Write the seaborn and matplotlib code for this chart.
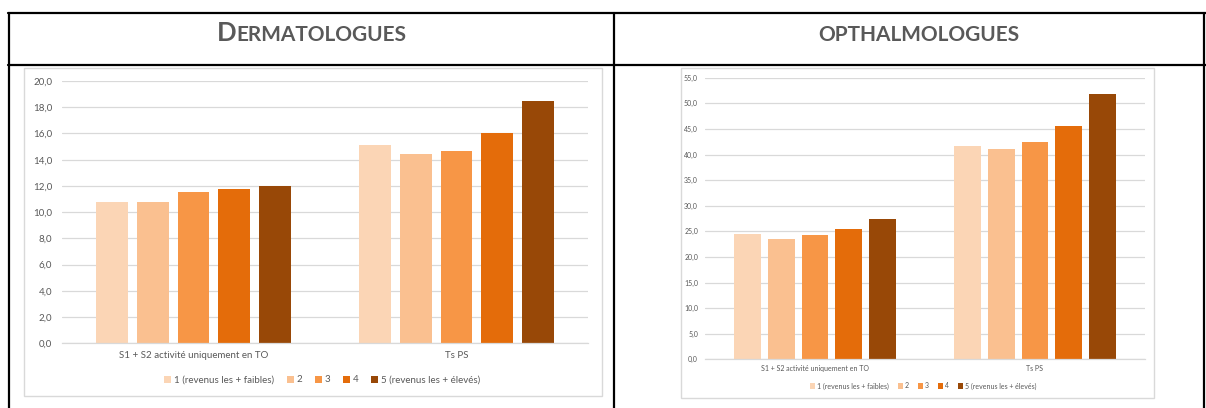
import numpy as np
import pandas as pd
import matplotlib
matplotlib.use("Agg")
import matplotlib.pyplot as plt
import seaborn as sns
from matplotlib.lines import Line2D
from matplotlib.patches import Rectangle
from matplotlib.ticker import FuncFormatter

# ---------------- data ----------------
categories = ["S1 + S2 activité uniquement en TO", "Ts PS"]
quintiles = ["1 (revenus les + faibles)", "2", "3", "4", "5 (revenus les + élevés)"]
derma_s1s2 = [10.8, 10.8, 11.5, 11.8, 12.0]
derma_tsps = [15.1, 14.4, 14.7, 16.0, 18.5]
ophtal_s1s2 = [24.4, 23.5, 24.2, 25.4, 27.4]
ophtal_tsps = [41.7, 41.1, 42.5, 45.5, 51.8]
derma_ticks = np.arange(0, 20.01, 2)
ophtal_ticks = np.arange(0, 55.01, 5)
colors = ["#FBD5B5", "#FAC090", "#F79646", "#E46C0A", "#984807"]
titles = ["DERMATOLOGUES", "OPTHALMOLOGUES"]


def long_df(s1s2, tsps):
    rows = []
    for q, v in zip(quintiles, s1s2):
        rows.append({"cat": categories[0], "quint": q, "val": v})
    for q, v in zip(quintiles, tsps):
        rows.append({"cat": categories[1], "quint": q, "val": v})
    return pd.DataFrame(rows)


sns.set_theme(style="white")
plt.rcParams["font.family"] = ["Lato", "DejaVu Sans"]

W, H = 1206, 408
fig = plt.figure(figsize=(W / 100, H / 100), dpi=100)


def fx(x):
    return x / W


def fy(y):
    return 1 - y / H


TXT = "#595959"
GRID = "#D9D9D9"

# ---------------- table lines ----------------
lw_tab = 1.6
for (x0, y0, x1, y1) in [(8, 13, 1206, 13), (8, 65, 1206, 65),
                         (9, 13, 9, 408), (614, 13, 614, 408), (1204, 13, 1204, 408)]:
    fig.add_artist(Line2D([fx(x0), fx(x1)], [fy(y0), fy(y1)], color="black", lw=lw_tab,
                          transform=fig.transFigure))

# chart frames
for (x0, y0, x1, y1) in [(24, 68, 602, 396), (681, 68, 1154, 398)]:
    fig.add_artist(Rectangle((fx(x0), fy(y1)), fx(x1) - fx(x0), fy(y0) - fy(y1),
                             transform=fig.transFigure, fill=False, edgecolor=GRID, lw=1.0))

# ---------------- charts ----------------
specs = [
    dict(df=long_df(derma_s1s2, derma_tsps), box=(62, 81, 588, 343.3), ylim=20, ticks=derma_ticks,
         fs=7.0, ypad=7.0, xpad=5.5, leg=(322, 380), colsp=1.3),
    dict(df=long_df(ophtal_s1s2, ophtal_tsps), box=(705, 77.7, 1145, 359.3), ylim=55, ticks=ophtal_ticks,
         fs=5.0, ypad=5.0, xpad=4.0, leg=(923, 386), colsp=1.3),
]

for sp in specs:
    x0, y0, x1, y1 = sp["box"]
    ax = fig.add_axes([fx(x0), fy(y1), fx(x1) - fx(x0), fy(y0) - fy(y1)])
    sns.barplot(data=sp["df"], x="cat", y="val", hue="quint", palette=colors,
                hue_order=quintiles, order=categories, width=0.77, gap=0.21,
                saturation=1, ax=ax, edgecolor="none", linewidth=0)
    ax.set_ylim(0, sp["ylim"])
    ax.set_xlim(-0.5, 1.5)
    ax.set_yticks(sp["ticks"])
    ax.yaxis.set_major_formatter(FuncFormatter(lambda v, p: f"{v:.1f}".replace(".", ",")))
    ax.yaxis.grid(True, color=GRID, lw=0.9)
    ax.set_axisbelow(True)
    for s in ["left", "top", "right"]:
        ax.spines[s].set_visible(False)
    ax.spines["bottom"].set_color(GRID)
    ax.spines["bottom"].set_linewidth(0.9)
    ax.tick_params(axis="y", length=0, pad=sp["ypad"], labelsize=sp["fs"], labelcolor=TXT)
    ax.tick_params(axis="x", length=0, pad=sp["xpad"], labelsize=sp["fs"], labelcolor=TXT)
    ax.set_xlabel("")
    ax.set_ylabel("")
    ax.set_facecolor("none")
    handles, labels = ax.get_legend_handles_labels()
    if ax.get_legend() is not None:
        ax.get_legend().remove()
    ax.legend(handles, labels, loc="center", bbox_to_anchor=(fx(sp["leg"][0]), fy(sp["leg"][1])),
              bbox_transform=fig.transFigure, ncol=5, frameon=False, fontsize=sp["fs"],
              handlelength=0.75, handleheight=0.75, handletextpad=0.25,
              columnspacing=sp["colsp"], labelcolor=TXT, borderpad=0, borderaxespad=0)

# ---------------- headers (small caps) ----------------
fig.canvas.draw()
renderer = fig.canvas.get_renderer()


def small_caps(text, cx, by, big, small):
    first = text[0]
    rest = text[1:]
    t1 = fig.text(0, fy(by), first, fontsize=big, weight="bold", color=TXT, va="baseline")
    t2 = fig.text(0, fy(by), rest, fontsize=small, weight="bold", color=TXT, va="baseline")
    w1 = t1.get_window_extent(renderer).width
    w2 = t2.get_window_extent(renderer).width
    start = cx - (w1 + w2) / 2
    t1.set_x(fx(start))
    t2.set_x(fx(start + w1))


small_caps(titles[0], 312, 41, 18.5, 15.0)
t = fig.text(fx(919), fy(41), titles[1], fontsize=15.0, weight="bold", color=TXT,
             va="baseline", ha="center")

fig.savefig("out.png", dpi=100)
